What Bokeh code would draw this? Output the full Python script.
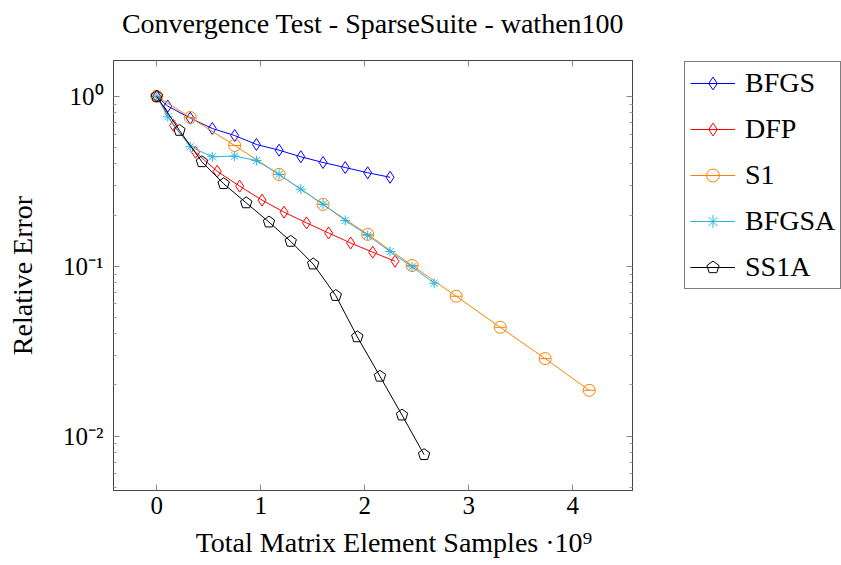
from bokeh.plotting import figure
from bokeh.layouts import row
from bokeh.models import (Range1d, FixedTicker, LinearAxis, LogAxis, Legend, LegendItem,
                          CustomJSTickFormatter)
from bokeh.embed import file_html
from bokeh.resources import INLINE

# ---- data (x in units of 1e9 samples) ----
x_bfgs = [0, 0.106, 0.322, 0.534, 0.749, 0.958, 1.176, 1.385, 1.599, 1.812, 2.028, 2.243]
y_bfgs = [1.0, 0.876, 0.744, 0.647, 0.588, 0.521, 0.482, 0.441, 0.408, 0.381, 0.355, 0.334]

x_dfp = [0, 0.161, 0.373, 0.581, 0.797, 1.012, 1.224, 1.440, 1.652, 1.864, 2.076, 2.291]
y_dfp = [1.0, 0.674, 0.469, 0.362, 0.296, 0.245, 0.208, 0.180, 0.157, 0.137, 0.121, 0.107]

x_s1 = [0, 0.322, 0.749, 1.176, 1.599, 2.028, 2.455, 2.879, 3.303, 3.734, 4.158]
y_s1 = [1.0, 0.751, 0.514, 0.347, 0.231, 0.154, 0.101, 0.0666, 0.0437, 0.0286, 0.0186]

x_bfgsa = [0, 0.106, 0.322, 0.534, 0.749, 0.958, 1.176, 1.385, 1.599, 1.812, 2.028, 2.243, 2.455, 2.667]
y_bfgsa = [1.0, 0.758, 0.505, 0.441, 0.445, 0.419, 0.347, 0.284, 0.232, 0.186, 0.152, 0.122, 0.0992, 0.0794]

x_ss1a = [0, 0.218, 0.434, 0.643, 0.860, 1.079, 1.288, 1.504, 1.721, 1.928, 2.146, 2.358, 2.570]
y_ss1a = [1.0, 0.630, 0.412, 0.306, 0.236, 0.182, 0.140, 0.103, 0.0672, 0.0384, 0.0225, 0.0133, 0.00778]

x_ticks = [0, 1, 2, 3, 4]
y_ticks = [0.01, 0.1, 1.0]
y_minor = [m * 10.0 ** e for e in (-3, -2, -1, 0) for m in range(2, 10)]

title_text = "Convergence Test - SparseSuite - wathen100"
x_label = "\u2007\u2007\u2007Total Matrix Element Samples \u00b710\u2079"
y_label = "Relative Error"

FONT = "Liberation Serif"
BLUE, RED, ORANGE, CYAN, BLACK = "#0000ff", "#ff0000", "#ff8000", "#27b4e6", "#000000"

series = [
    ("BFGS", x_bfgs, y_bfgs, BLUE, "diamond", 12),
    ("DFP", x_dfp, y_dfp, RED, "diamond", 12),
    ("S1", x_s1, y_s1, ORANGE, "circle", 12),
    ("BFGSA", x_bfgsa, y_bfgsa, CYAN, "asterisk", 10),
    ("SS1A", x_ss1a, y_ss1a, BLACK, "pentagon", 6),
]


def draw(fig, xs, ys, color, marker, size):
    rs = [fig.line(xs, ys, line_color=color, line_width=1)]
    if marker == "pentagon":
        rs.append(fig.ngon(xs, ys, radius=size, radius_units="screen", n=5, line_color=color,
                           fill_alpha=0, line_width=1))
    else:
        rs.append(fig.scatter(xs, ys, marker=marker, size=size, line_color=color,
                              fill_alpha=0, line_width=1))
    if marker == "circle":
        rs.append(fig.scatter(xs, ys, marker="dash", size=size - 1, line_color=color,
                              line_width=1))
    return rs


p = figure(frame_width=519, frame_height=430, y_axis_type="log",
           x_range=Range1d(-0.416, 4.574), y_range=Range1d(0.004786, 1.6255),
           output_backend="svg", toolbar_location=None,
           min_border_left=113, min_border_right=10, min_border_top=60, min_border_bottom=75,
           background_fill_color="white", border_fill_color="white")
p.grid.visible = False
p.outline_line_color = "#444444"
p.outline_line_width = 1

xa = p.xaxis[0]
xa.ticker = FixedTicker(ticks=x_ticks)
xa.axis_label = x_label
ya = p.yaxis[0]
ya.ticker = FixedTicker(ticks=y_ticks, minor_ticks=y_minor)
ya.axis_label = y_label
ya.formatter = CustomJSTickFormatter(code="""
const e = Math.round(Math.log10(tick));
const sup = {'0':'\u2070','1':'\u00b9','2':'\u00b2','-':'\u207b'};
return '10' + String(e).split('').map(c => sup[c]).join('');
""")

blank = CustomJSTickFormatter(code="return '';")
top = LinearAxis(ticker=FixedTicker(ticks=x_ticks), formatter=blank,
                 major_label_standoff=0, minor_tick_line_color=None,
                 axis_label=title_text, axis_label_standoff=22)
p.add_layout(top, "above")
right = LogAxis(ticker=FixedTicker(ticks=y_ticks, minor_ticks=y_minor), formatter=blank,
                major_label_standoff=0)
p.add_layout(right, "right")

for ax in (xa, ya, top, right):
    ax.axis_label_text_font = FONT
    ax.axis_label_text_font_size = "28px"
    ax.axis_label_text_font_style = "normal"
    ax.axis_label_text_color = "black"
    ax.major_label_text_font = FONT
    ax.major_label_text_font_size = "25px"
    ax.major_label_text_color = "black"
    ax.axis_line_color = "#444444"
    ax.major_tick_in = 6
    ax.major_tick_out = 0
    ax.minor_tick_in = 3
    ax.minor_tick_out = 0
    ax.major_tick_line_color = "#888888"
    ax.minor_tick_line_color = "#999999"
xa.minor_tick_line_color = None
top.minor_tick_line_color = None
xa.major_label_standoff = 6
xa.axis_label_standoff = 10
ya.major_label_standoff = 10
ya.axis_label_standoff = 22

for name, xs, ys, color, marker, size in series:
    draw(p, xs, ys, color, marker, size)

# ---- legend panel: a separate figure to the right, its own view kept away from the data ----
q = figure(width=199, height=565, output_backend="svg", toolbar_location=None,
           x_axis_location=None, y_axis_location=None, min_border=0,
           x_range=Range1d(-20, -10), y_range=Range1d(-20, -10),
           background_fill_color="white", border_fill_color="white")
q.grid.visible = False
q.outline_line_color = None

items = []
for name, xs, ys, color, marker, size in series:
    items.append(LegendItem(label=name, renderers=draw(q, xs, ys, color, marker, size)))

legend = Legend(items=items, location=(42, 201), border_line_color="black",
                border_line_width=1, background_fill_color="white", background_fill_alpha=1,
                label_text_font=FONT, label_text_font_size="28px", label_text_color="black",
                glyph_width=45, glyph_height=32, label_height=32, spacing=14, padding=5,
                label_standoff=10, margin=0)
q.add_layout(legend, "center")

layout = row(p, q, spacing=0)
open("out.html", "w").write(file_html(layout, INLINE))
